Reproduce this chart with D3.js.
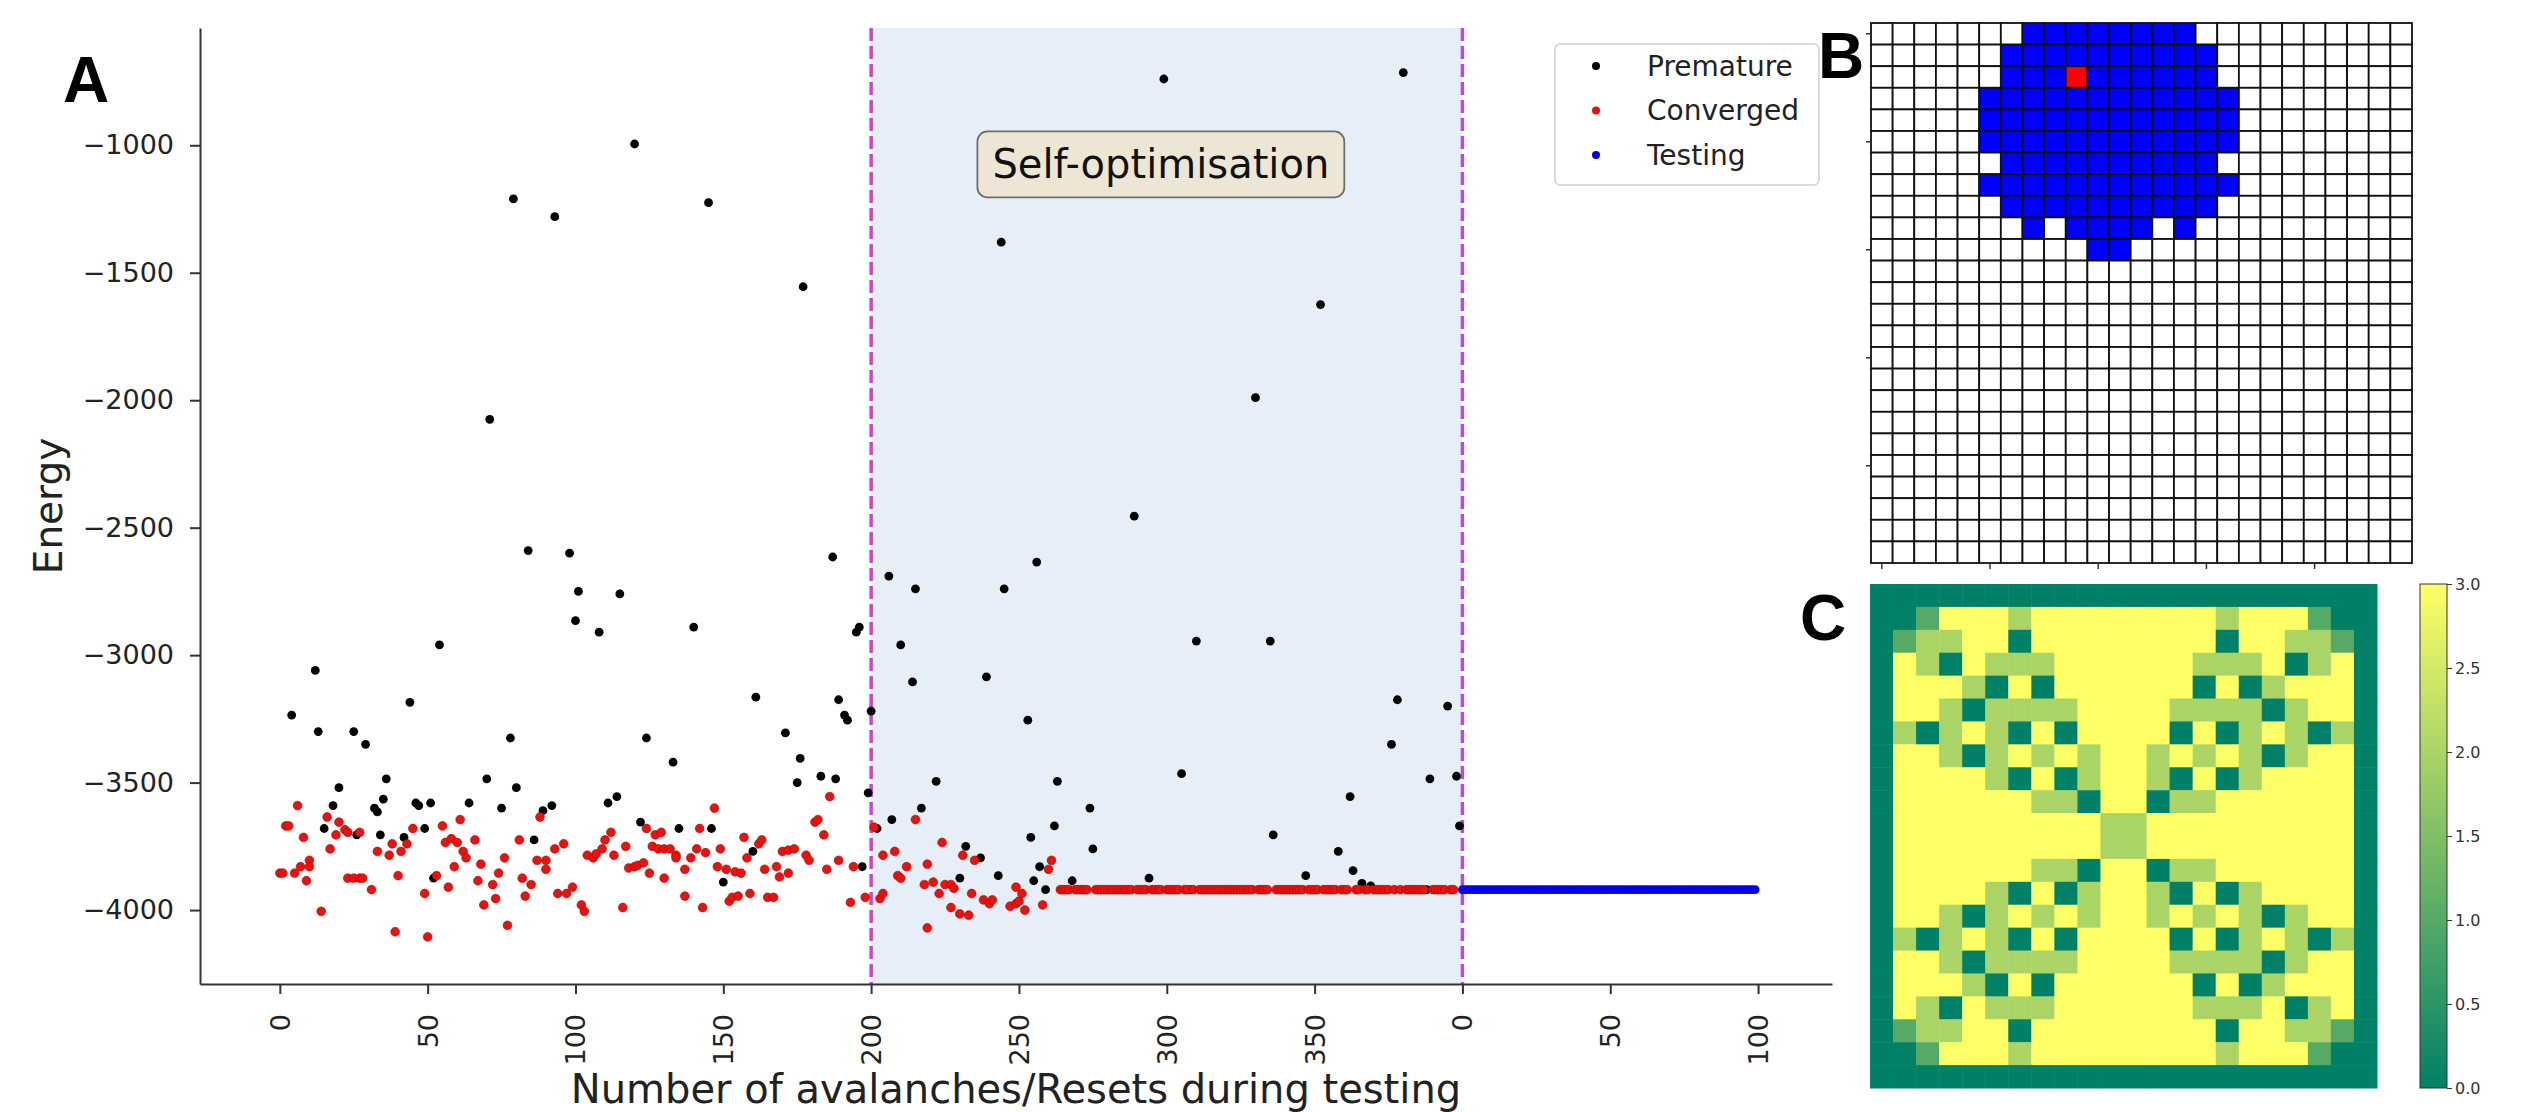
<!DOCTYPE html>
<html>
<head>
<meta charset="utf-8">
<script src="https://cdn.jsdelivr.net/npm/d3@7"></script>
<style>
  html, body { margin: 0; padding: 0; background: #fff; }
  svg text { font-family: "DejaVu Sans", sans-serif; }
</style>
</head>
<body>
<div id="fig"></div>
<script>
// ---- panel A data: [run index, energy] ----
const premature = [
  [4,-3235],[12,-3060],[13,-3300],[15,-3680],[18,-3590],[20,-3520],[25,-3300],[26,-3705],[29,-3350],[32,-3600],
  [33,-3615],[34,-3705],[35,-3565],[36,-3485],[42,-3715],[44,-3185],[46,-3580],[47,-3590],[49,-3680],[51,-3580],
  [52,-3875],[54,-2960],[64,-3580],[70,-3485],[71,-2075],[75,-3600],[78,-3325],[79,-1210],[80,-3520],[84,-2590],
  [86,-3725],[89,-3610],[92,-3590],[93,-1280],[98,-2600],[100,-2865],[101,-2750],[108,-2910],[111,-3580],[114,-3555],
  [115,-2760],[120,-995],[122,-3655],[124,-3325],[133,-3420],[135,-3680],[140,-2890],[145,-1225],[146,-3680],[150,-3890],
  [160,-3770],[161,-3165],[171,-3305],[175,-3500],[176,-3405],[177,-1555],[183,-3475],[187,-2615],[188,-3485],[189,-3175],
  [191,-3235],[192,-3255],[195,-2910],[196,-2890],[197,-3830],[199,-3540],[200,-3220],[202,-3680],[206,-2690],[207,-3645],
  [210,-2960],[214,-3105],[215,-2740],[217,-3600],[222,-3495],[230,-3875],[232,-3750],[237,-3795],[239,-3085],[243,-3865],
  [244,-1380],[245,-2740],[253,-3255],[254,-3715],[255,-3885],[256,-2635],[257,-3830],[259,-3920],[262,-3670],[263,-3495],
  [268,-3885],[274,-3600],[275,-3760],[289,-2455],[294,-3875],[299,-740],[305,-3465],[308,-3920],[310,-2945],[330,-1990],
  [335,-2945],[336,-3705],[347,-3865],[352,-1625],[358,-3770],[362,-3555],[363,-3845],[366,-3895],[369,-3905],[376,-3350],
  [378,-3175],[380,-715],[388,-3920],[389,-3485],[395,-3200],[398,-3475],[399,-3670]
];

const convergedScatter = [
  [0,-3855],[1,-3855],[2,-3670],[3,-3670],[5,-3855],[6,-3590],[7,-3830],[8,-3715],[9,-3885],[10,-3805],
  [10,-3830],[14,-4005],[16,-3635],[17,-3760],[19,-3705],[20,-3655],[22,-3685],[23,-3695],[23,-3875],[25,-3875],
  [27,-3695],[27,-3875],[28,-3875],[31,-3920],[33,-3770],[37,-3785],[38,-3740],[39,-4085],[40,-3865],[41,-3770],
  [43,-3740],[45,-3680],[49,-3935],[50,-4105],[53,-3865],[55,-3670],[56,-3735],[57,-3910],[58,-3720],[59,-3830],
  [60,-3735],[61,-3645],[62,-3770],[63,-3795],[66,-3725],[67,-3885],[68,-3820],[69,-3980],[72,-3900],[73,-3955],
  [74,-3855],[76,-3795],[77,-4060],[81,-3725],[82,-3875],[83,-3945],[85,-3900],[87,-3805],[88,-3635],[90,-3805],
  [90,-3840],[93,-3760],[94,-3935],[96,-3740],[97,-3935],[99,-3910],[102,-3980],[103,-4005],[104,-3785],[106,-3795],
  [107,-3780],[109,-3760],[110,-3725],[112,-3695],[113,-3785],[116,-3990],[117,-3750],[118,-3835],[120,-3830],[121,-3825],
  [123,-3815],[124,-3680],[125,-3855],[126,-3750],[127,-3705],[128,-3760],[129,-3695],[130,-3760],[130,-3875],[132,-3760],
  [134,-3785],[134,-3795],[137,-3840],[137,-3945],[139,-3795],[141,-3760],[142,-3680],[143,-3990],[144,-3775],[147,-3600],
  [148,-3830],[149,-3760],[151,-3840],[152,-3965],[153,-3950],[154,-3850],[155,-3945],[156,-3855],[157,-3715],[158,-3795],
  [159,-3935],[162,-3740],[163,-3725],[164,-3840],[165,-3950],[167,-3950],[168,-3830],[169,-3870],[170,-3770],[172,-3765],
  [172,-3855],[174,-3760],[178,-3785],[179,-3805],[181,-3655],[182,-3645],[184,-3705],[185,-3840],[186,-3555],[189,-3805],
  [193,-3970],[194,-3830],[198,-3950],[201,-3675],[203,-3955],[204,-3935],[204,-3785],[208,-3770],[209,-3865],[210,-3875],
  [212,-3830],[215,-3645],[218,-3900],[219,-3820],[219,-4070],[221,-3890],[223,-3935],[224,-3735],[225,-3900],[227,-3900],
  [227,-3990],[228,-3915],[230,-4015],[231,-3785],[233,-4020],[234,-3935],[235,-3805],[238,-3960],[240,-3975],[241,-3960],
  [247,-3985],[249,-3975],[249,-3910],[250,-3965],[251,-3935],[252,-4000],[258,-3980],[260,-3840],[261,-3805]
];

// converged runs once the system settled
const convergedPlateau = [
  [264,-3920],[265,-3920],[266,-3920],[267,-3920],[269,-3920],[270,-3920],[271,-3920],[272,-3920],[273,-3920],
  [276,-3920],[277,-3920],[278,-3920],[279,-3920],[280,-3920],[281,-3920],[282,-3920],[283,-3920],[284,-3920],
  [285,-3920],[286,-3920],[287,-3920],[288,-3920],[290,-3920],[291,-3920],[292,-3920],[293,-3920],[295,-3920],
  [296,-3920],[297,-3920],[298,-3920],[300,-3920],[301,-3920],[302,-3920],[303,-3920],[304,-3920],[306,-3920],
  [307,-3920],[309,-3920],[311,-3920],[312,-3920],[313,-3920],[314,-3920],[315,-3920],[316,-3920],[317,-3920],
  [318,-3920],[319,-3920],[320,-3920],[321,-3920],[322,-3920],[323,-3920],[324,-3920],[325,-3920],[326,-3920],
  [327,-3920],[328,-3920],[329,-3920],[331,-3920],[332,-3920],[333,-3920],[334,-3920],[337,-3920],[338,-3920],
  [339,-3920],[340,-3920],[341,-3920],[342,-3920],[343,-3920],[344,-3920],[345,-3920],[346,-3920],[348,-3920],
  [349,-3920],[350,-3920],[351,-3920],[353,-3920],[354,-3920],[355,-3920],[356,-3920],[357,-3920],[359,-3920],
  [360,-3920],[361,-3920],[364,-3920],[365,-3920],[367,-3920],[368,-3920],[370,-3920],[371,-3920],[372,-3920],
  [373,-3920],[374,-3920],[375,-3920],[377,-3920],[379,-3920],[381,-3920],[382,-3920],[383,-3920],[384,-3920],
  [385,-3920],[386,-3920],[387,-3920],[390,-3920],[391,-3920],[392,-3920],[393,-3920],[394,-3920],[396,-3920],
  [397,-3920]
];

const testing = [
  [400,-3920],[401,-3920],[402,-3920],[403,-3920],[404,-3920],[405,-3920],[406,-3920],[407,-3920],[408,-3920],[409,-3920],
  [410,-3920],[411,-3920],[412,-3920],[413,-3920],[414,-3920],[415,-3920],[416,-3920],[417,-3920],[418,-3920],[419,-3920],
  [420,-3920],[421,-3920],[422,-3920],[423,-3920],[424,-3920],[425,-3920],[426,-3920],[427,-3920],[428,-3920],[429,-3920],
  [430,-3920],[431,-3920],[432,-3920],[433,-3920],[434,-3920],[435,-3920],[436,-3920],[437,-3920],[438,-3920],[439,-3920],
  [440,-3920],[441,-3920],[442,-3920],[443,-3920],[444,-3920],[445,-3920],[446,-3920],[447,-3920],[448,-3920],[449,-3920],
  [450,-3920],[451,-3920],[452,-3920],[453,-3920],[454,-3920],[455,-3920],[456,-3920],[457,-3920],[458,-3920],[459,-3920],
  [460,-3920],[461,-3920],[462,-3920],[463,-3920],[464,-3920],[465,-3920],[466,-3920],[467,-3920],[468,-3920],[469,-3920],
  [470,-3920],[471,-3920],[472,-3920],[473,-3920],[474,-3920],[475,-3920],[476,-3920],[477,-3920],[478,-3920],[479,-3920],
  [480,-3920],[481,-3920],[482,-3920],[483,-3920],[484,-3920],[485,-3920],[486,-3920],[487,-3920],[488,-3920],[489,-3920],
  [490,-3920],[491,-3920],[492,-3920],[493,-3920],[494,-3920],[495,-3920],[496,-3920],[497,-3920],[498,-3920],[499,-3920]
];

const phaseBounds = [200, 400];
const xTickValues = [0, 50, 100, 150, 200, 250, 300, 350, 400, 450, 500];
const xTickLabels = ["0", "50", "100", "150", "200", "250", "300", "350", "0", "50", "100"];
const yTickValues = [-1000, -1500, -2000, -2500, -3000, -3500, -4000];
const legendItems = [
  { label: "Premature", color: "#000000" },
  { label: "Converged", color: "#e8120f" },
  { label: "Testing", color: "#0000ee" }
];
const annotation = { label: "Self-optimisation", x: 298, y: -1075 };

// ---- panel B: avalanche on the 25x25 lattice (0 empty, 1 toppled, 2 seed) ----
const avalancheRows = [
  "0000000111111110000000000",
  "0000001111111111000000000",
  "0000001112111111000000000",
  "0000011111111111100000000",
  "0000011111111111100000000",
  "0000011111111111100000000",
  "0000001111111111000000000",
  "0000011111111111100000000",
  "0000001111111111000000000",
  "0000000101111010000000000",
  "0000000000110000000000000",
  "0000000000000000000000000",
  "0000000000000000000000000",
  "0000000000000000000000000",
  "0000000000000000000000000",
  "0000000000000000000000000",
  "0000000000000000000000000",
  "0000000000000000000000000",
  "0000000000000000000000000",
  "0000000000000000000000000",
  "0000000000000000000000000",
  "0000000000000000000000000",
  "0000000000000000000000000",
  "0000000000000000000000000",
  "0000000000000000000000000"
];
const avalancheTicks = [0, 5, 10, 15, 20];

// ---- panel C: sandpile heights 0..3 ----
const sandpileRows = [
  "0000000000000000000000",
  "0013332333333332333100",
  "0122330333333330332210",
  "0320322233333322230230",
  "0333203033333303023330",
  "0332022223333222202330",
  "0202320303333030232020",
  "0332023232332323202330",
  "0333320302332030233330",
  "0333333220330223333330",
  "0333333333223333333330",
  "0333333333223333333330",
  "0333333220330223333330",
  "0333320302332030233330",
  "0332023232332323202330",
  "0202320303333030232020",
  "0332022223333222202330",
  "0333203033333303023330",
  "0320322233333322230230",
  "0122330333333330332210",
  "0013332333333332333100",
  "0000000000000000000000"
];
const colorbarTicks = [0, 0.5, 1, 1.5, 2, 2.5, 3];

// ---------------------------------------------------------------
const W = 2531, H = 1112;
const svg = d3.select("#fig").append("svg")
  .attr("width", W)
  .attr("height", H);

// ===== panel A =====
const x = d3.scaleLinear().domain([-27, 525]).range([200, 1832]);
const y = d3.scaleLinear().domain([-4290, -540]).range([984, 28]);

// shaded self-optimisation phase
svg.append("rect")
  .attr("x", x(phaseBounds[0]))
  .attr("y", y(-540))
  .attr("width", x(phaseBounds[1]) - x(phaseBounds[0]))
  .attr("height", y(-4290) - y(-540))
  .attr("fill", "#e6eef7");

svg.selectAll(".phase-line")
  .data(phaseBounds)
  .join("line")
  .attr("class", "phase-line")
  .attr("x1", d => x(d)).attr("x2", d => x(d))
  .attr("y1", y(-540)).attr("y2", y(-4290))
  .attr("stroke", "#c04ac8")
  .attr("stroke-width", 3.5)
  .attr("stroke-dasharray", "13,5");

// axes
const yAxis = svg.append("g")
  .attr("transform", `translate(${x(-27)},0)`)
  .call(d3.axisLeft(y).tickValues(yTickValues).tickFormat(d3.format("d"))
    .tickSize(10).tickSizeOuter(0).tickPadding(16));

const xAxis = svg.append("g")
  .attr("transform", `translate(0,${y(-4290)})`)
  .call(d3.axisBottom(x).tickValues(xTickValues)
    .tickFormat((d, i) => xTickLabels[i])
    .tickSize(10).tickSizeOuter(0));

xAxis.selectAll(".tick text")
  .attr("transform", "rotate(-90)")
  .attr("x", -30)
  .attr("y", 0)
  .attr("dy", "0.35em")
  .style("text-anchor", "end");

[yAxis, xAxis].forEach(g => {
  g.select(".domain").attr("stroke", "#333").attr("stroke-width", 2);
  g.selectAll(".tick line").attr("stroke", "#333").attr("stroke-width", 2);
  g.selectAll(".tick text")
    .attr("fill", "#222")
    .style("font-family", "DejaVu Sans")
    .style("font-size", "27px");
});

// axis titles
svg.append("text")
  .attr("x", (x(-27) + x(525)) / 2)
  .attr("y", 1103)
  .attr("text-anchor", "middle")
  .attr("fill", "#222")
  .style("font-size", "40px")
  .text("Number of avalanches/Resets during testing");

svg.append("text")
  .attr("transform", `translate(62,${(y(-540) + y(-4290)) / 2}) rotate(-90)`)
  .attr("text-anchor", "middle")
  .attr("fill", "#222")
  .style("font-size", "39px")
  .text("Energy");

// scatter points: premature first, converged on top, then testing
const dotR = 4.4;
svg.append("g").selectAll("circle")
  .data(premature)
  .join("circle")
  .attr("cx", d => x(d[0]))
  .attr("cy", d => y(d[1]))
  .attr("r", dotR)
  .attr("fill", legendItems[0].color);

svg.append("g").selectAll("circle")
  .data(convergedScatter.concat(convergedPlateau))
  .join("circle")
  .attr("cx", d => x(d[0]))
  .attr("cy", d => y(d[1]))
  .attr("r", dotR)
  .attr("fill", legendItems[1].color)
  .attr("stroke", "#b30000")
  .attr("stroke-width", 0.6);

svg.append("g").selectAll("circle")
  .data(testing)
  .join("circle")
  .attr("cx", d => x(d[0]))
  .attr("cy", d => y(d[1]))
  .attr("r", dotR)
  .attr("fill", legendItems[2].color);

// annotation box
const ann = svg.append("g");
const annText = ann.append("text")
  .attr("x", x(annotation.x))
  .attr("y", y(annotation.y))
  .attr("dy", "0.35em")
  .attr("text-anchor", "middle")
  .attr("fill", "#111")
  .style("font-size", "40px")
  .text(annotation.label);
const bb = annText.node().getBBox();
ann.insert("rect", "text")
  .attr("x", bb.x - 15)
  .attr("y", y(annotation.y) - 33)
  .attr("width", bb.width + 30)
  .attr("height", 66)
  .attr("rx", 10)
  .attr("fill", "#ede6d4")
  .attr("stroke", "#6e6e6e")
  .attr("stroke-width", 1.8);

// legend
const legend = svg.append("g").attr("transform", "translate(1555,44)");
legend.append("rect")
  .attr("width", 264)
  .attr("height", 141)
  .attr("rx", 5)
  .attr("fill", "#fff")
  .attr("stroke", "#d0d0d0")
  .attr("stroke-width", 1.5);

const li = legend.selectAll(".item")
  .data(legendItems)
  .join("g")
  .attr("class", "item")
  .attr("transform", (d, i) => `translate(0,${22 + i * 44.5})`);
li.append("circle").attr("cx", 41).attr("r", 4).attr("fill", d => d.color);
li.append("text")
  .attr("x", 92)
  .attr("dy", "0.35em")
  .attr("fill", "#222")
  .style("font-size", "28px")
  .text(d => d.label);

// ===== panel B =====
const bx = d3.scaleBand().domain(d3.range(25)).range([1871, 2412]);
const by = d3.scaleBand().domain(d3.range(25)).range([23, 563]);
const avalancheColor = { "0": "#ffffff", "1": "#0000ff", "2": "#ff0000" };

const avalancheCells = [];
avalancheRows.forEach((row, r) => {
  row.split("").forEach((v, c) => avalancheCells.push({ r, c, v }));
});

svg.append("g").selectAll("rect")
  .data(avalancheCells)
  .join("rect")
  .attr("x", d => bx(d.c))
  .attr("y", d => by(d.r))
  .attr("width", bx.bandwidth())
  .attr("height", by.bandwidth())
  .attr("fill", d => avalancheColor[d.v])
  .attr("stroke", "#111")
  .attr("stroke-width", 1.8);

const bLeft = svg.append("g")
  .attr("transform", "translate(1871,0)")
  .call(d3.axisLeft(by).tickValues(avalancheTicks).tickSize(5).tickFormat(""));
const bBottom = svg.append("g")
  .attr("transform", "translate(0,563)")
  .call(d3.axisBottom(bx).tickValues(avalancheTicks).tickSize(6).tickFormat(""));
[bLeft, bBottom].forEach(g => {
  g.select(".domain").remove();
  g.selectAll(".tick line").attr("stroke", "#333").attr("stroke-width", 1.5);
});

// ===== panel C =====
const cx = d3.scaleBand().domain(d3.range(22)).range([1870, 2377]);
const cy = d3.scaleBand().domain(d3.range(22)).range([584, 1088]);
const summer = d3.scaleLinear().domain([0, 3]).range(["#008066", "#ffff66"]);

const sandCells = [];
sandpileRows.forEach((row, r) => {
  row.split("").forEach((v, c) => sandCells.push({ r, c, v: +v }));
});

svg.append("g").selectAll("rect")
  .data(sandCells)
  .join("rect")
  .attr("x", d => cx(d.c))
  .attr("y", d => cy(d.r))
  .attr("width", cx.bandwidth() + 0.5)
  .attr("height", cy.bandwidth() + 0.5)
  .attr("fill", d => summer(d.v));

// colorbar
const cb = d3.scaleLinear().domain([0, 3]).range([1088, 584]);
const grad = svg.append("defs").append("linearGradient")
  .attr("id", "summerGrad")
  .attr("x1", 0).attr("y1", 1).attr("x2", 0).attr("y2", 0);
grad.append("stop").attr("offset", "0%").attr("stop-color", summer(0));
grad.append("stop").attr("offset", "100%").attr("stop-color", summer(3));

svg.append("rect")
  .attr("x", 2420)
  .attr("y", cb(3))
  .attr("width", 27)
  .attr("height", cb(0) - cb(3))
  .attr("fill", "url(#summerGrad)")
  .attr("stroke", "#333")
  .attr("stroke-width", 1);

const cbAxis = svg.append("g")
  .attr("transform", "translate(2447,0)")
  .call(d3.axisRight(cb).tickValues(colorbarTicks).tickFormat(d3.format(".1f")).tickSize(5).tickPadding(3));
cbAxis.select(".domain").remove();
cbAxis.selectAll(".tick line").attr("stroke", "#333");
cbAxis.selectAll(".tick text")
  .attr("fill", "#333")
  .style("font-family", "DejaVu Sans")
  .style("font-size", "16px");

// ===== panel letters =====
const letters = [
  { t: "A", x: 63, y: 102 },
  { t: "B", x: 1818, y: 78 },
  { t: "C", x: 1800, y: 640 }
];
svg.selectAll(".panel-letter")
  .data(letters)
  .join("text")
  .attr("class", "panel-letter")
  .attr("x", d => d.x)
  .attr("y", d => d.y)
  .attr("fill", "#000")
  .style("font-family", "Liberation Sans, Arial, sans-serif")
  .style("font-weight", "bold")
  .style("font-size", "64px")
  .text(d => d.t);
</script>
</body>
</html>
